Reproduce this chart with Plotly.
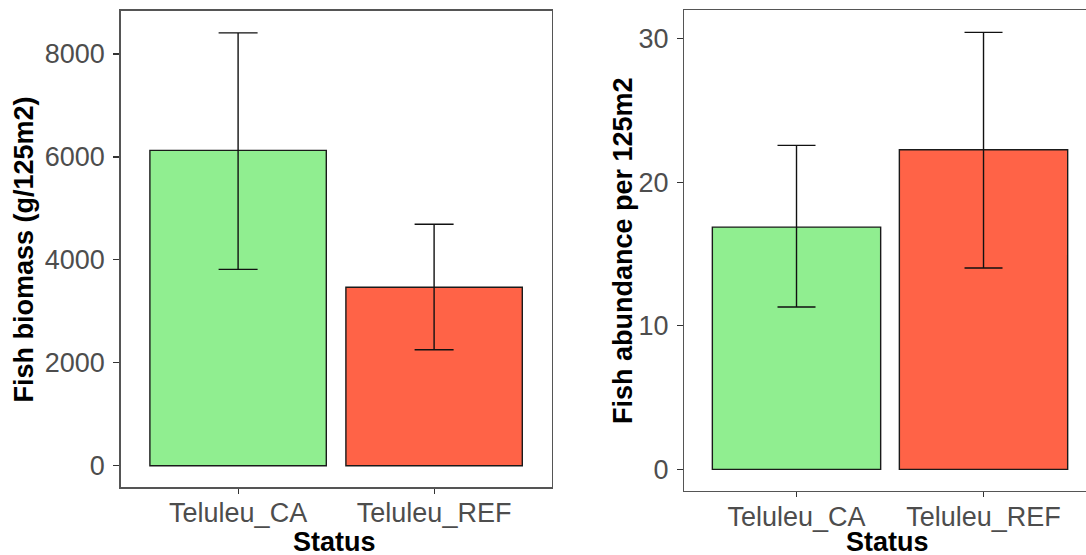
import plotly.graph_objects as go

# ---- data ----
categories = ["Teluleu_CA", "Teluleu_REF"]
bar_colors = ["#90EE90", "#FF6347"]

biomass_mean = [6128, 3467]
biomass_low = [3815, 2254]
biomass_high = [8412, 4691]

abund_mean = [16.88, 22.27]
abund_low = [11.31, 14.03]
abund_high = [22.58, 30.45]

left_ticks = [0, 2000, 4000, 6000, 8000]
right_ticks = [0, 10, 20, 30]

W, H = 1086, 555
FONT = "Liberation Sans, Arial, sans-serif"
TICK_FONT = dict(family=FONT, size=27, color="#4D4D4D")
TITLE_FONT = dict(family=FONT, size=27, color="#000000")
BORDER = "#555555"

fig = go.Figure()

fig.add_trace(go.Bar(
    x=[0, 1], y=biomass_mean, width=0.9,
    marker=dict(color=bar_colors, line=dict(color="#1a1a1a", width=1.4)),
    error_y=dict(type="data", symmetric=False,
                 array=[h - m for h, m in zip(biomass_high, biomass_mean)],
                 arrayminus=[m - l for m, l in zip(biomass_mean, biomass_low)],
                 color="#111111", thickness=1.4, width=19.5),
    xaxis="x", yaxis="y", showlegend=False, hoverinfo="skip",
))

fig.add_trace(go.Bar(
    x=[0, 1], y=abund_mean, width=0.9,
    marker=dict(color=bar_colors, line=dict(color="#1a1a1a", width=1.4)),
    error_y=dict(type="data", symmetric=False,
                 array=[h - m for h, m in zip(abund_high, abund_mean)],
                 arrayminus=[m - l for m, l in zip(abund_mean, abund_low)],
                 color="#111111", thickness=1.4, width=19),
    xaxis="x2", yaxis="y2", showlegend=False, hoverinfo="skip",
))

common_x = dict(tickmode="array", tickvals=[0, 1], ticktext=categories,
                ticks="outside", ticklen=5, tickwidth=1.2, tickcolor="#333333",
                showgrid=False, zeroline=False, showline=True, linecolor=BORDER,
                linewidth=1.3, tickfont=TICK_FONT, fixedrange=True,
                ticklabelstandoff=-4)
common_y = dict(tickmode="array", ticks="outside", ticklen=6, tickwidth=1.2,
                tickcolor="#333333", showgrid=False, zeroline=False,
                showline=True, linecolor=BORDER, linewidth=1.3,
                tickfont=TICK_FONT, fixedrange=True)

fig.update_layout(
    width=W, height=H,
    margin=dict(l=0, r=0, t=0, b=0),
    paper_bgcolor="white", plot_bgcolor="white",
    bargap=0,
    xaxis=dict(common_x, domain=[120.5 / W, 551.7 / W], range=[-0.6, 1.6],
               mirror=True, anchor="y"),
    yaxis=dict(common_y, domain=[1 - 487.3 / H, 1 - 10.7 / H], range=[-420, 8842],
               tickvals=left_ticks, ticktext=[str(v) for v in left_ticks],
               mirror=True, anchor="x", ticklabelstandoff=3),
    xaxis2=dict(common_x, domain=[684.3 / W, 1.0], range=[-0.6, 1.548],
                mirror=True, anchor="y2"),
    yaxis2=dict(common_y, domain=[1 - 491 / H, 1 - 10.3 / H], range=[-1.51, 31.99],
                tickvals=right_ticks, ticktext=[str(v) for v in right_ticks],
                mirror=False, anchor="x2", ticklabelstandoff=3),
    annotations=[
        dict(text="<b>Fish biomass (g/125m2)</b>", x=24 / W, y=1 - 249.6 / H,
             xref="paper", yref="paper", showarrow=False, textangle=-90,
             xanchor="center", yanchor="middle", font=TITLE_FONT),
        dict(text="<b>Fish abundance per 125m2</b>", x=623 / W, y=1 - 251 / H,
             xref="paper", yref="paper", showarrow=False, textangle=-90,
             xanchor="center", yanchor="middle", font=TITLE_FONT),
        dict(text="<b>Status</b>", x=334.3 / W, y=1 - 542 / H,
             xref="paper", yref="paper", showarrow=False,
             xanchor="center", yanchor="middle", font=TITLE_FONT),
        dict(text="<b>Status</b>", x=887.5 / W, y=1 - 542 / H,
             xref="paper", yref="paper", showarrow=False,
             xanchor="center", yanchor="middle", font=TITLE_FONT),
    ],
)

fig.write_html(
    "out.html",
    config={"displayModeBar": False, "staticPlot": True},
    post_script="document.body.style.margin='0';document.body.style.overflow='hidden';",
)
